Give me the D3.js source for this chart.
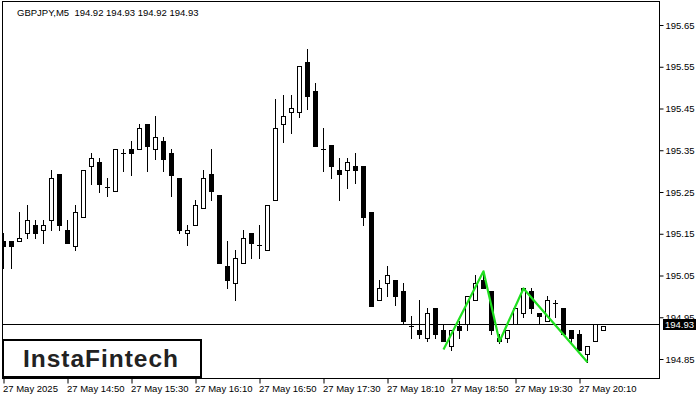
<!DOCTYPE html>
<html>
<head>
<meta charset="utf-8">
<script src="https://cdn.jsdelivr.net/npm/d3@7"></script>
<style>
  html, body { margin: 0; padding: 0; background: #fff; }
  svg { display: block; }
  text { font-family: "Liberation Sans", Arial, sans-serif; }
</style>
</head>
<body>
<svg id="chart" width="700" height="400"></svg>
<script>
// ---- data ----
const title = "GBPJPY,M5  194.92 194.93 194.92 194.93";
const times = [
  "14:10","14:15","14:20","14:25","14:30","14:35","14:40","14:45","14:50","14:55",
  "15:00","15:05","15:10","15:15","15:20","15:25","15:30","15:35","15:40","15:45","15:50","15:55",
  "16:00","16:05","16:10","16:15","16:20","16:25","16:30","16:35","16:40","16:45","16:50","16:55",
  "17:00","17:05","17:10","17:15","17:20","17:25","17:30","17:35","17:40","17:45","17:50","17:55",
  "18:00","18:05","18:10","18:15","18:20","18:25","18:30","18:35","18:40","18:45","18:50","18:55",
  "19:00","19:05","19:10","19:15","19:20","19:25","19:30","19:35","19:40","19:45","19:50","19:55",
  "20:00","20:05","20:10","20:15","20:20","20:25"
];
const open = [
  195.132,195.132,195.132,195.151,195.172,195.160,195.182,195.292,195.160,195.120,
  195.189,195.312,195.321,195.261,195.252,195.343,195.352,195.352,195.412,195.352,
  195.372,195.343,195.283,195.151,195.172,195.211,195.292,195.242,195.072,195.031,
  195.081,195.151,195.122,195.112,195.232,195.412,195.441,195.441,195.561,195.492,
  195.352,195.362,195.302,195.302,195.312,195.312,195.201,194.992,195.031,195.040,
  195.012,194.930,194.920,194.901,194.971,194.920,194.882,194.930,194.933,194.992,
  195.040,195.012,194.901,194.901,194.933,194.961,195.012,194.961,194.942,194.983,
  194.971,194.920,194.911,194.863,194.892,194.920
];
const high = [
  195.151,195.132,195.201,195.220,195.182,195.182,195.302,195.292,195.182,195.220,
  195.302,195.343,195.331,195.283,195.352,195.352,195.372,195.412,195.412,195.432,
  195.381,195.352,195.283,195.170,195.232,195.302,195.352,195.242,195.132,195.112,
  195.160,195.151,195.172,195.220,195.472,195.482,195.482,195.552,195.592,195.511,
  195.403,195.362,195.331,195.331,195.343,195.312,195.201,195.040,195.072,195.040,
  195.031,194.952,194.992,194.971,194.971,194.933,194.920,194.942,195.002,195.052,
  195.060,195.012,194.911,194.920,194.971,195.021,195.021,194.961,195.002,194.992,
  194.971,194.920,194.920,194.882,194.933,194.930
];
const low = [
  195.069,195.069,195.132,195.139,195.139,195.129,195.160,195.160,195.129,195.112,
  195.189,195.268,195.249,195.240,195.252,195.300,195.290,195.352,195.300,195.328,
  195.300,195.240,195.151,195.122,195.172,195.211,195.232,195.081,195.021,194.992,
  195.081,195.091,195.091,195.112,195.232,195.369,195.391,195.429,195.448,195.360,
  195.300,195.283,195.232,195.259,195.271,195.172,194.978,194.992,195.002,194.980,
  194.933,194.901,194.901,194.892,194.901,194.892,194.872,194.901,194.920,194.992,
  195.021,194.911,194.888,194.890,194.933,194.950,194.961,194.933,194.942,194.950,
  194.911,194.890,194.872,194.842,194.892,194.920
];
const close = [
  195.120,195.120,195.141,195.182,195.151,195.172,195.283,195.170,195.129,195.201,
  195.302,195.331,195.268,195.261,195.352,195.343,195.343,195.403,195.360,195.381,
  195.328,195.290,195.160,195.160,195.220,195.283,195.252,195.081,195.040,195.091,
  195.141,195.129,195.122,195.220,195.403,195.432,195.451,195.552,195.480,195.360,
  195.352,195.312,195.292,195.321,195.302,195.189,194.978,195.021,195.052,195.002,
  194.940,194.930,194.911,194.961,194.911,194.892,194.920,194.920,195.002,195.031,
  195.021,194.920,194.892,194.920,194.971,195.021,194.971,194.952,194.992,194.983,
  194.911,194.901,194.872,194.882,194.933,194.930
];
const lastPrice = 194.93;
const priceTicks = [195.65,195.55,195.45,195.35,195.25,195.15,195.05,194.95,194.85];
const timeTickAt = ["14:10","14:50","15:30","16:10","16:50","17:30","18:10","18:50","19:30","20:10"];
const timeTickLabels = ["27 May 2025","27 May 14:50","27 May 15:30","27 May 16:10","27 May 16:50",
  "27 May 17:30","27 May 18:10","27 May 18:50","27 May 19:30","27 May 20:10"];
const patternTimes = ["18:45","19:10","19:20","19:35","20:15"];
const patternPrices = [194.873,195.060,194.892,195.019,194.842];
const logoText = "InstaFintech";

// ---- layout ----
const svg = d3.select("#chart");
const frame = {left: 2, top: 1, right: 659, bottom: 378};

const x = d3.scalePoint().domain(times).range([3, 603]);
const y = d3.scaleLinear().domain([194.85, 195.65]).range([359, 25]);

svg.append("rect").attr("width", 700).attr("height", 400).attr("fill", "#fff");

// clip for plot area
svg.append("clipPath").attr("id", "plotclip")
  .append("rect").attr("x", frame.left + 1).attr("y", frame.top + 1)
  .attr("width", frame.right - frame.left - 1).attr("height", frame.bottom - frame.top - 1);

const plot = svg.append("g").attr("clip-path", "url(#plotclip)");

// current price line
const yLast = Math.floor(y(lastPrice)) - 0.5;
plot.append("line")
  .attr("x1", frame.left).attr("x2", frame.right)
  .attr("y1", yLast).attr("y2", yLast)
  .attr("stroke", "#000").attr("stroke-width", 1);

// candles
const candles = times.map((t, i) => ({t, o: open[i], h: high[i], l: low[i], c: close[i]}));
const cg = plot.append("g");
candles.forEach(d => {
  const cx = x(d.t) + 0.5;
  const yh = Math.round(y(d.h)), yl = Math.round(y(d.l));
  const yTop = Math.round(y(Math.max(d.o, d.c)));
  const yBot = Math.round(y(Math.min(d.o, d.c)));
  cg.append("line").attr("x1", cx).attr("x2", cx)
    .attr("y1", yh).attr("y2", yl + 1)
    .attr("stroke", "#000").attr("stroke-width", 1);
  if (yBot - yTop < 1) {
    cg.append("line").attr("x1", cx - 2.5).attr("x2", cx + 2.5)
      .attr("y1", yTop + 0.5).attr("y2", yTop + 0.5)
      .attr("stroke", "#000").attr("stroke-width", 1);
  } else if (d.c >= d.o) {
    cg.append("rect").attr("x", cx - 2).attr("y", yTop + 0.5)
      .attr("width", 4).attr("height", yBot - yTop)
      .attr("fill", "#fff").attr("stroke", "#000").attr("stroke-width", 1);
  } else {
    cg.append("rect").attr("x", cx - 2.5).attr("y", yTop)
      .attr("width", 5).attr("height", yBot - yTop + 1)
      .attr("fill", "#000");
  }
});

// pattern line
plot.append("path")
  .datum(patternTimes.map((t, i) => [x(t) + 0.5, y(patternPrices[i])]))
  .attr("d", d3.line())
  .attr("fill", "none").attr("stroke", "#1fe01f").attr("stroke-width", 2.2)
  .attr("stroke-linejoin", "round");

// frame
svg.append("rect")
  .attr("x", frame.left + 0.5).attr("y", frame.top + 0.5)
  .attr("width", frame.right - frame.left).attr("height", frame.bottom - frame.top)
  .attr("fill", "none").attr("stroke", "#000").attr("stroke-width", 1);

// right axis
const yAxis = d3.axisRight(y).tickValues(priceTicks).tickSize(4).tickPadding(2)
  .tickFormat(d3.format(".2f"));
const ya = svg.append("g").attr("transform", `translate(${frame.right + 0.5},0)`).call(yAxis);
ya.select(".domain").remove();
ya.selectAll(".tick line").attr("stroke", "#000");
ya.selectAll(".tick text").attr("fill", "#000").attr("font-size", 9.5)
  .attr("font-family", "'Liberation Sans', Arial, sans-serif").attr("x", 6);

// last price label (covers part of the nearby tick label, as in the source)
svg.append("rect").attr("x", 663).attr("y", yLast - 5.5).attr("width", 33).attr("height", 11)
  .attr("fill", "#000");
svg.append("text").attr("x", 665).attr("y", yLast).attr("dy", "0.35em")
  .attr("fill", "#fff").attr("font-size", 9.5).text(d3.format(".2f")(lastPrice));

// bottom axis
const xAxis = d3.axisBottom(x).tickValues(timeTickAt).tickSize(5)
  .tickFormat((d, i) => timeTickLabels[i]);
const xa = svg.append("g").attr("transform", `translate(0.5,${frame.bottom + 0.5})`).call(xAxis);
xa.select(".domain").remove();
xa.selectAll(".tick line").attr("stroke", "#000");
xa.selectAll(".tick text").attr("fill", "#000").attr("font-size", 9.5)
  .attr("font-family", "'Liberation Sans', Arial, sans-serif")
  .attr("text-anchor", "start").attr("x", -1).attr("y", 7).attr("dy", "0.71em");

// title
svg.append("text").attr("x", 17).attr("y", 16).attr("font-size", 9.5).attr("fill", "#000")
  .attr("xml:space", "preserve").style("white-space", "pre").text(title);

// logo
svg.append("rect").attr("x", 3).attr("y", 340).attr("width", 198).attr("height", 37)
  .attr("fill", "#fff").attr("stroke", "#000").attr("stroke-width", 2);
svg.append("text").attr("x", 23).attr("y", 367)
  .attr("font-family", "'Open Sans', sans-serif").attr("font-weight", 600)
  .attr("font-size", 24.5).attr("fill", "#222")
  .attr("textLength", 155).attr("lengthAdjust", "spacing")
  .text(logoText);
</script>
</body>
</html>
